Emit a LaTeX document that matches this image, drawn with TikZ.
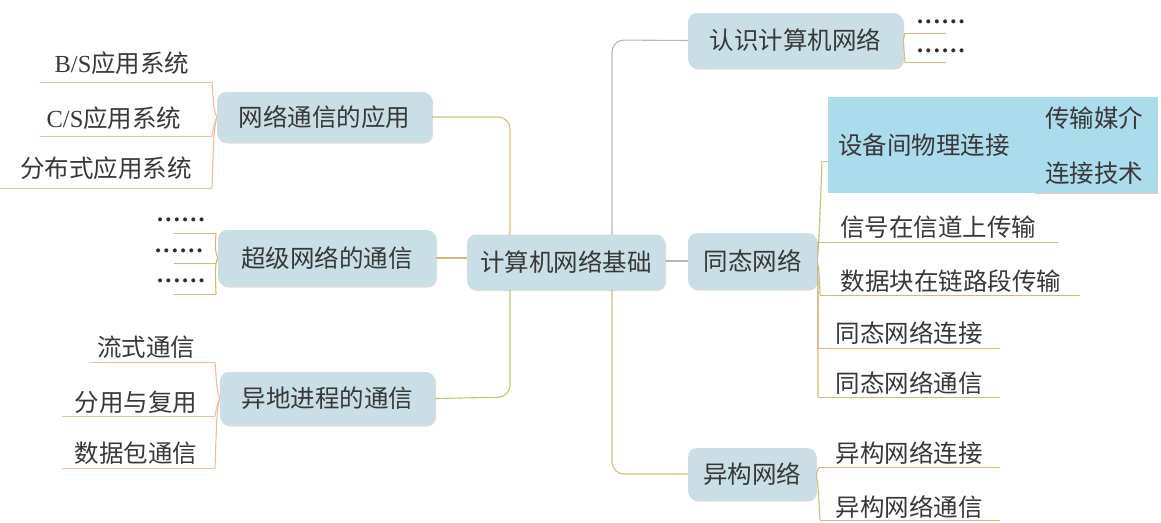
\documentclass[tikz,border=0pt]{standalone}
\usepackage{fontspec}
\setmainfont{Noto Sans CJK SC}
\newfontfamily\latinserif{Liberation Serif}
\usetikzlibrary{shadows,backgrounds}
\definecolor{boxfill}{HTML}{CADFE5}
\definecolor{hilite}{HTML}{ABDCEB}
\definecolor{txt}{HTML}{383838}
\definecolor{tanline}{HTML}{D9BB7F}
\definecolor{grayline}{HTML}{B8B8B8}
\definecolor{salmon}{HTML}{F4B9A3}
\definecolor{greenline}{HTML}{BCCB6A}
\definecolor{goldline}{HTML}{D3BA6E}
\definecolor{pinkline}{HTML}{E8C8C8}
\newcommand{\sixdots}{{\latinserif\bfseries .\hspace{2.2pt}.\hspace{2.2pt}.\hspace{2.2pt}.\hspace{2.2pt}.\hspace{2.2pt}.}}
\tikzset{
  mainbox/.style={rounded corners=9pt, fill=boxfill, text=txt, inner sep=0pt,
    font=\fontsize{24.5}{28}\selectfont,
    drop shadow={shadow xshift=1pt, shadow yshift=-1.5pt, fill=black!30, opacity=0.45}},
  leaf/.style={text=txt, inner sep=0pt, font=\fontsize{24.5}{28}\selectfont},
  dotleaf/.style={text=txt!80!black, inner sep=0pt, font=\fontsize{24.5}{28}\selectfont},
  conn/.style={line width=1.1pt},
  uline/.style={line width=1pt},
}
\begin{document}
\begin{tikzpicture}[x=1pt,y=-1pt]
\useasboundingbox (0,0) rectangle (1161,522);
% highlight
\fill[hilite] (828,97) rectangle (1158,193);
% main nodes
\node[mainbox, minimum width=198pt, minimum height=55pt] (root) at (566,262) {计算机网络基础};
\node[mainbox, minimum width=215pt, minimum height=50pt] (app) at (324.5,117) {网络通信的应用};
\node[mainbox, minimum width=218pt, minimum height=56pt] (super) at (327,258) {超级网络的通信};
\node[mainbox, minimum width=215pt, minimum height=53pt] (remote) at (327.5,398.5) {异地进程的通信};
\node[mainbox, minimum width=215pt, minimum height=55pt] (know) at (795.5,40.5) {认识计算机网络};
\node[mainbox, minimum width=129pt, minimum height=56pt] (homo) at (752.5,261) {同态网络};
\node[mainbox, minimum width=128pt, minimum height=52pt] (hetero) at (752,474) {异构网络};

% leaves left: app
\node[leaf] (bs) at (122,63) {{\latinserif B/S}应用系统};
\node[leaf] (cs) at (114,118) {{\latinserif C/S}应用系统};
\node[leaf] (dist) at (106,168) {分布式应用系统};
\coordinate (bsL) at (40,82);  \coordinate (bsR) at (212,82);
\coordinate (csL) at (40,136); \coordinate (csR) at (212,136);
\coordinate (diL) at (0,188);  \coordinate (diR) at (212,188);
% leaves left: super
\node[dotleaf] (d1) at (181,220) {\sixdots};
\node[dotleaf] (d2) at (179,251) {\sixdots};
\node[dotleaf] (d3) at (181,281) {\sixdots};
\coordinate (d1L) at (174,233); \coordinate (d1R) at (216,233);
\coordinate (d2L) at (174,263); \coordinate (d2R) at (216,263);
\coordinate (d3L) at (174,294); \coordinate (d3R) at (216,294);
% leaves left: remote
\node[leaf] (flow) at (146,347) {流式通信};
\node[leaf] (mux) at (136,402) {分用与复用};
\node[leaf] (pkt) at (136,453) {数据包通信};
\coordinate (flL) at (90,362);  \coordinate (flR) at (215,362);
\coordinate (muL) at (62,416);  \coordinate (muR) at (215,416);
\coordinate (pkL) at (62,468);  \coordinate (pkR) at (215,468);
% leaves right: know
\node[dotleaf] (k1) at (941,22) {\sixdots};
\node[dotleaf] (k2) at (941,51) {\sixdots};
\coordinate (k1L) at (905,33); \coordinate (k1R) at (946,33);
\coordinate (k2L) at (905,62); \coordinate (k2R) at (946,62);
% leaves right: homo
\node[leaf] (phys) at (924,145) {设备间物理连接};
\node[leaf] (media) at (1094,118) {传输媒介};
\node[leaf] (tech) at (1094,173) {连接技术};
\node[leaf] (sig) at (938,227) {信号在信道上传输};
\node[leaf] (blk) at (951,281) {数据块在链路段传输};
\node[leaf] (hcon) at (909,333) {同态网络连接};
\node[leaf] (hcom) at (909,383) {同态网络通信};
\coordinate (phL) at (822,161);  \coordinate (phR) at (1032,161);
\coordinate (meL) at (1035,136); \coordinate (meR) at (1158,136);
\coordinate (teL) at (1035,193); \coordinate (teR) at (1158,193);
\coordinate (siL) at (818,242);  \coordinate (siR) at (1058,242);
\coordinate (blL) at (820,295);  \coordinate (blR) at (1080,295);
\coordinate (hcL) at (818,348);  \coordinate (hcR) at (1000,348);
\coordinate (hmL) at (818,397);  \coordinate (hmR) at (1000,397);
% leaves right: hetero
\node[leaf] (xcon) at (909,453) {异构网络连接};
\node[leaf] (xcom) at (909,507) {异构网络通信};
\coordinate (xcL) at (820,467); \coordinate (xcR) at (1000,467);
\coordinate (xmL) at (820,520); \coordinate (xmR) at (1000,520);

\begin{pgfonlayer}{background}
% trunks
\draw[conn, tanline, rounded corners=12pt] (app.east) -- (510,117) -- (510,262) -- (root.west);
\draw[conn, greenline, rounded corners=12pt] (remote.east) -- (510,397) -- (510,262);
\draw[conn, goldline] (super.east) -- (super.east -| root.west);
\draw[conn, grayline, rounded corners=12pt] (know.west) -- (612,40) -- (612,262);
\draw[conn, tanline, rounded corners=12pt] (hetero.west) -- (612,474) -- (612,262);
\draw[conn, grayline] (root.east |- homo.west) -- (homo.west);
% app leaves
\draw[uline, salmon] (bsL) -- (bsR) (csL) -- (csR) (diL) -- (diR);
\draw[conn, salmon] (app.west) .. controls (214,110) .. (bsR);
\draw[conn, salmon] (app.west) .. controls (214,125) .. (csR);
\draw[conn, salmon] (app.west) .. controls (214,130) .. (diR);
% super leaves
\draw[uline, goldline] (d1L) -- (d1R) (d2L) -- (d2R) (d3L) -- (d3R);
\draw[conn, goldline] (super.west) .. controls (215,250) .. (d1R);
\draw[conn, goldline] (super.west) -- (d2R);
\draw[conn, goldline] (super.west) .. controls (215,266) .. (d3R);
% remote leaves
\draw[uline, salmon] (flL) -- (flR) (muL) -- (muR) (pkL) -- (pkR);
\draw[conn, salmon] (remote.west) .. controls (217,390) .. (flR);
\draw[conn, salmon] (remote.west) .. controls (217,405) .. (muR);
\draw[conn, salmon] (remote.west) .. controls (217,410) .. (pkR);
% know leaves
\draw[uline, tanline] (k1L) -- (k1R) (k2L) -- (k2R);
\draw[conn, tanline] (know.east) .. controls (904,36) .. (k1L);
\draw[conn, tanline] (know.east) .. controls (904,50) .. (k2L);
% homo leaves
\draw[uline, goldline] (phL) -- (phR) (siL) -- (siR) (blL) -- (blR) (hcL) -- (hcR) (hmL) -- (hmR);
\draw[uline, pinkline] (meL) -- (meR) (teL) -- (teR);
\draw[conn, pinkline] (phR) .. controls (1034,150) .. (meL);
\draw[conn, pinkline] (phR) .. controls (1034,172) .. (teL);
\draw[conn, goldline] (homo.east) .. controls (819,240) .. (phL);
\draw[conn, goldline] (homo.east) .. controls (818,250) .. (siL);
\draw[conn, goldline] (homo.east) .. controls (819,270) .. (blL);
\draw[conn, goldline] (homo.east) .. controls (818,280) .. (hcL);
\draw[conn, goldline] (homo.east) .. controls (818,290) .. (hmL);
% hetero leaves
\draw[uline, goldline] (xcL) -- (xcR) (xmL) -- (xmR);
\draw[conn, goldline] (hetero.east) .. controls (818,469) .. (xcL);
\draw[conn, goldline] (hetero.east) .. controls (818,485) .. (xmL);
\end{pgfonlayer}
\end{tikzpicture}
\end{document}
